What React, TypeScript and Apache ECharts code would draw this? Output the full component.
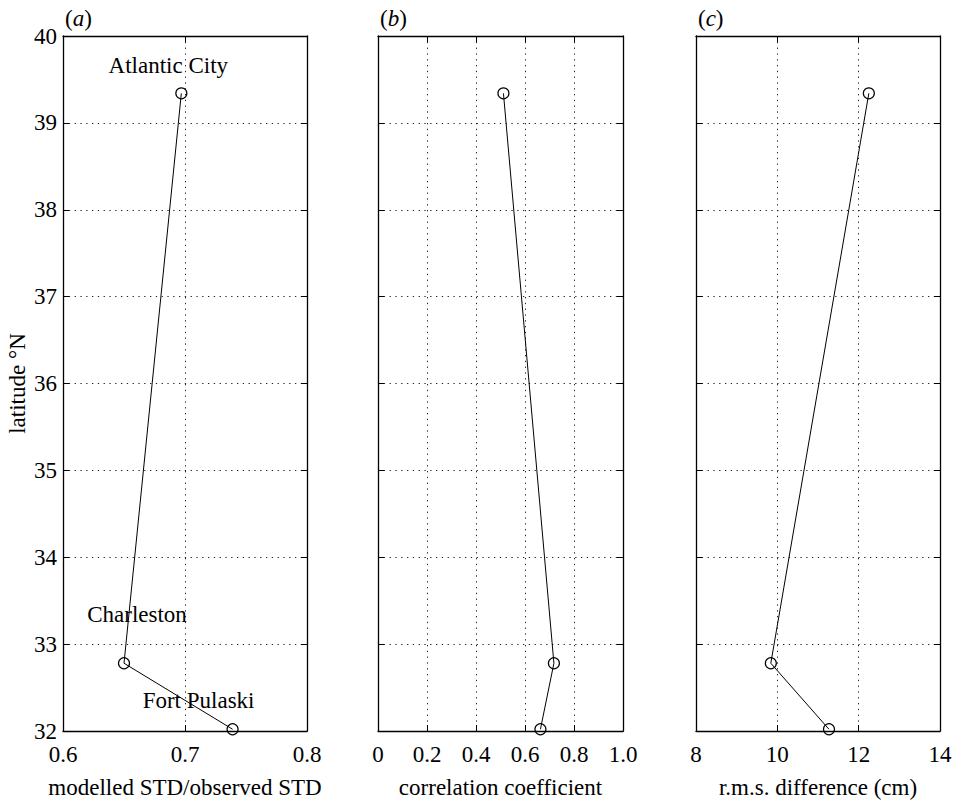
import React, { useEffect, useRef } from "react";
import * as echarts from "echarts";

const stations = ["Atlantic City", "Charleston", "Fort Pulaski"];
const latitude = [39.34, 32.78, 32.02];
const stdRatio = [0.697, 0.65, 0.739];
const correlation = [0.512, 0.718, 0.663];
const rmsDiff = [12.25, 9.84, 11.27];
const labelOffsets: number[][] = [[-13, -5], [13, -26], [-34, -6]];

const FONT = "Liberation Serif";
const FS = 23;

const panels = [
  { left: 63, width: 244, min: 0.6, max: 0.8, interval: 0.1, name: "modelled STD/observed STD", values: stdRatio, fmt: (v: number) => v.toFixed(1), tag: "a", showY: true, labels: true },
  { left: 378, width: 245, min: 0, max: 1, interval: 0.2, name: "correlation coefficient", values: correlation, fmt: (v: number) => (v === 0 ? "0" : v.toFixed(1)), tag: "b", showY: false, labels: false },
  { left: 696, width: 244, min: 8, max: 14, interval: 2, name: "r.m.s. difference (cm)", values: rmsDiff, fmt: (v: number) => String(v), tag: "c", showY: false, labels: false },
];

export default function App() {
  const ref = useRef<HTMLDivElement>(null);
  useEffect(() => {
    if (!ref.current) return;
    const chart = echarts.init(ref.current, null, { renderer: "svg" });
    const top = 36;
    const height = 701;
    const grids: any[] = [];
    const xAxes: any[] = [];
    const yAxes: any[] = [];
    const series: any[] = [];
    const titles: any[] = [];
    const axisLine = { show: true, onZero: false, lineStyle: { color: "#000", width: 1.3 } };
    const axisTick = { show: true, inside: true, length: 6, lineStyle: { color: "#000", width: 1 } };
    const splitLine = { show: true, lineStyle: { color: "#222", width: 1, type: [1.3, 4.5] } };
    panels.forEach((p, i) => {
      grids.push({ left: p.left, width: p.width, top, height, containLabel: false });
      xAxes.push({
        type: "value", gridIndex: i, position: "bottom", min: p.min, max: p.max, interval: p.interval,
        axisLine, axisTick, splitLine,
        axisLabel: { show: true, fontFamily: FONT, fontSize: FS, color: "#000", margin: 12, formatter: p.fmt },
        name: p.name, nameLocation: "middle", nameGap: 45,
        nameTextStyle: { fontFamily: FONT, fontSize: FS, color: "#000" },
      });
      xAxes.push({
        type: "value", gridIndex: i, position: "top", min: p.min, max: p.max, interval: p.interval,
        axisLine, axisTick, splitLine: { show: false }, axisLabel: { show: false },
      });
      yAxes.push({
        type: "value", gridIndex: i, position: "left", min: 32, max: 40, interval: 1,
        axisLine, axisTick, splitLine,
        axisLabel: { show: p.showY, fontFamily: FONT, fontSize: FS, color: "#000", margin: 6 },
        name: p.showY ? "latitude °N" : "", nameLocation: "middle", nameGap: 34, nameRotate: 90,
        nameTextStyle: { fontFamily: FONT, fontSize: FS, color: "#000" },
      });
      yAxes.push({
        type: "value", gridIndex: i, position: "right", min: 32, max: 40, interval: 1,
        axisLine, axisTick, splitLine: { show: false }, axisLabel: { show: false },
      });
      series.push({
        type: "line",
        xAxisIndex: i * 2,
        yAxisIndex: i * 2,
        symbol: "circle",
        symbolSize: 11,
        clip: false,
        lineStyle: { color: "#000", width: 1 },
        itemStyle: { color: "rgba(0,0,0,0)", borderColor: "#000", borderWidth: 1.2 },
        data: p.values.map((v, k) => ({
          value: [v, latitude[k]],
          label: p.labels
            ? { show: true, position: "top", formatter: stations[k], offset: labelOffsets[k], fontFamily: FONT, fontSize: FS, color: "#000" }
            : { show: false },
        })),
      });
      titles.push({
        left: p.left - 3,
        top: 2,
        text: `{p|(}{i|${p.tag}}{p|)}`,
        textStyle: {
          fontWeight: "normal",
          rich: {
            p: { fontFamily: FONT, fontSize: FS, fontWeight: "normal", color: "#000" },
            i: { fontFamily: FONT, fontSize: FS, fontWeight: "normal", fontStyle: "italic", color: "#000" },
          },
        },
      });
    });
    chart.setOption({
      animation: false,
      backgroundColor: "#fff",
      title: titles,
      grid: grids,
      xAxis: xAxes,
      yAxis: yAxes,
      series,
    });
    return () => chart.dispose();
  }, []);
  return <div ref={ref} style={{ position: "absolute", left: 0, top: 0, width: 955, height: 804 }} />;
}
